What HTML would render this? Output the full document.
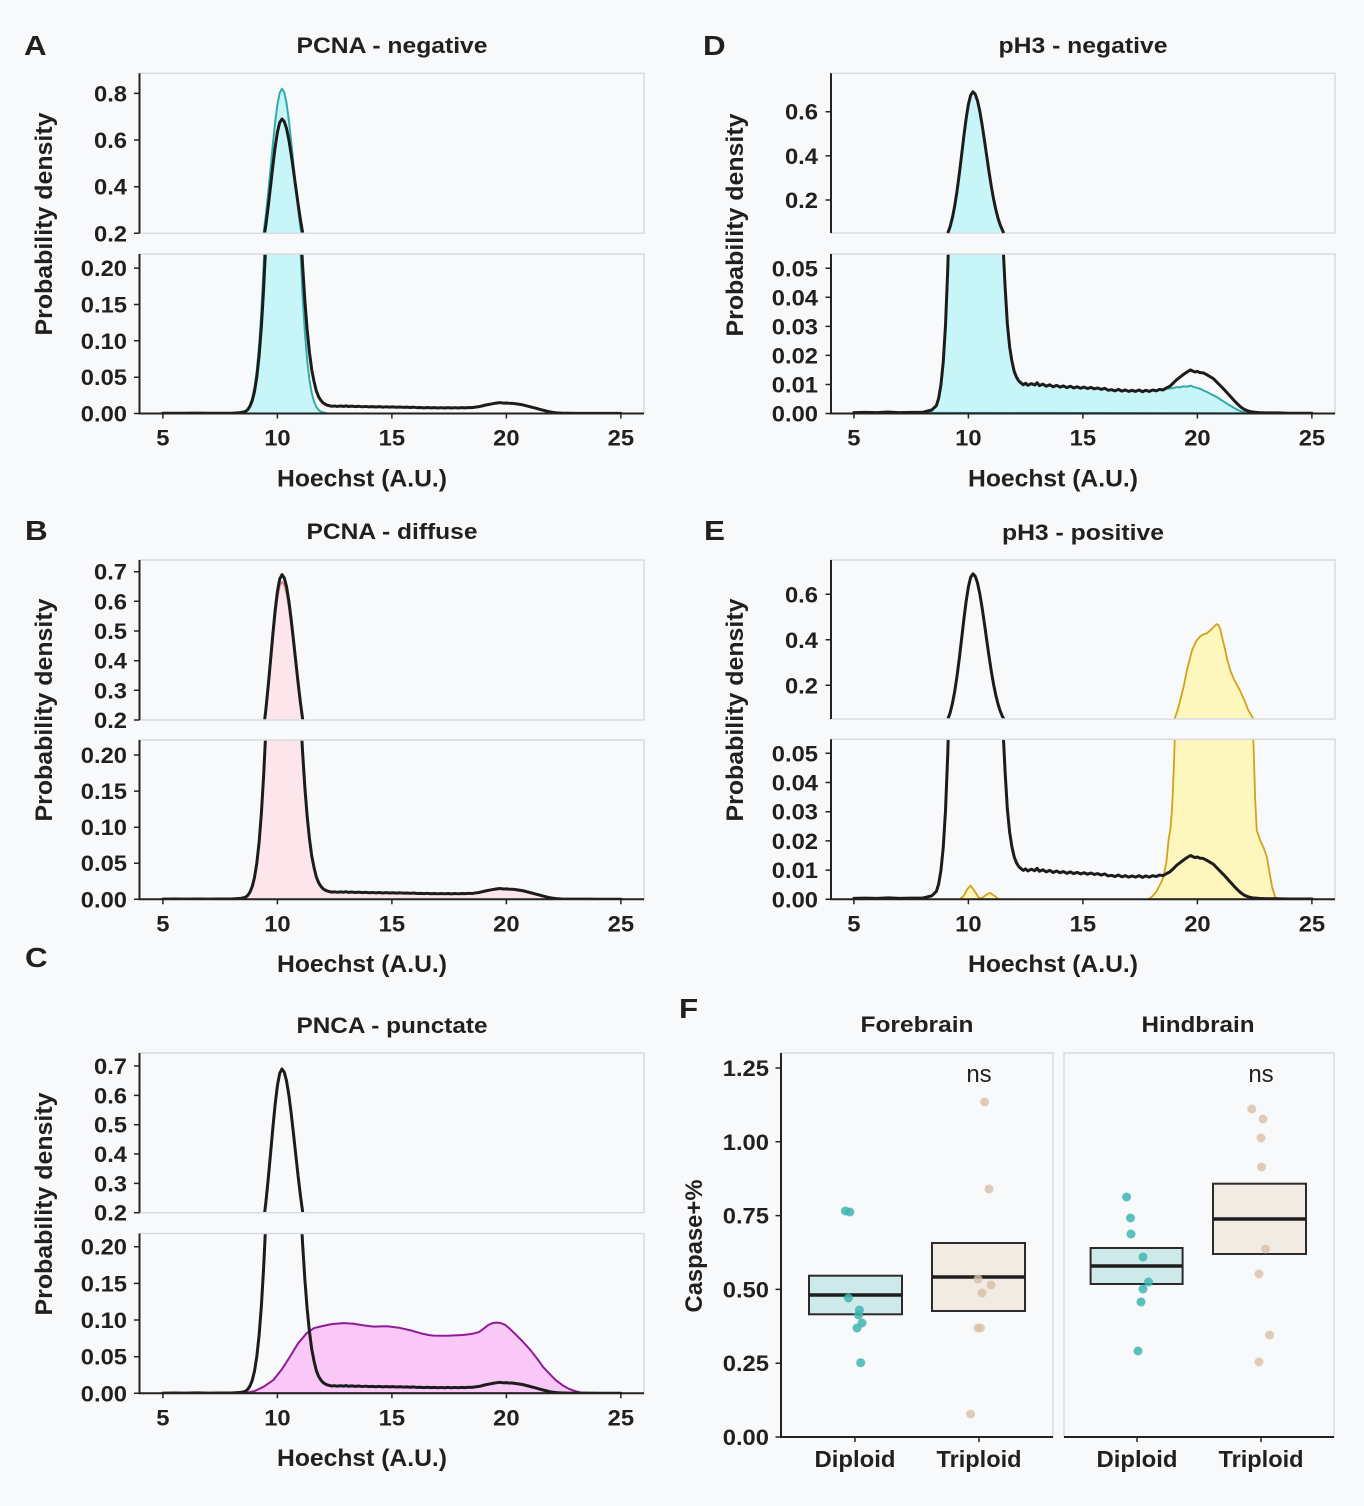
<!DOCTYPE html>
<html><head><meta charset="utf-8"><style>
html,body{margin:0;padding:0;background:#f8f9fb;}
svg{display:block}
text{font-family:"Liberation Sans",Arial,sans-serif;font-weight:bold;fill:#231f20}
.tk{font-size:22px}
.ttl{font-size:22px}
.ax{font-size:24px}
.lt{font-size:28px}
.bl{fill:none;stroke:#1c1c1c;stroke-width:3px;stroke-linejoin:round;stroke-linecap:round}
.teal{fill:#c8f6f8;stroke:#35aaa6;stroke-width:2px;stroke-linejoin:round}
.pink{fill:#fce6ec;stroke:#e58a96;stroke-width:2px;stroke-linejoin:round}
.mag{fill:#f9c8f6;stroke:#8e1c96;stroke-width:2px;stroke-linejoin:round}
.yel{fill:#fdf6bd;stroke:#d1a21d;stroke-width:1.8px;stroke-linejoin:round}
.box{fill:none;stroke:#d8dce0;stroke-width:1.5}
.sp{fill:none;stroke:#222;stroke-width:2}
.tc{fill:none;stroke:#222;stroke-width:1.5}
</style></head><body>
<svg width="1364" height="1506" viewBox="0 0 1364 1506" xmlns="http://www.w3.org/2000/svg">
<defs>
<clipPath id="cAt"><rect x="139.5" y="73.3" width="504.5" height="160"/></clipPath>
<clipPath id="cAb"><rect x="139.5" y="254" width="504.5" height="159.5"/></clipPath>
<clipPath id="cBt"><rect x="139.5" y="560" width="504.5" height="160"/></clipPath>
<clipPath id="cBb"><rect x="139.5" y="740" width="504.5" height="159.3"/></clipPath>
<clipPath id="cCt"><rect x="139.5" y="1053" width="504.5" height="159.7"/></clipPath>
<clipPath id="cCb"><rect x="139.5" y="1233.5" width="504.5" height="159.8"/></clipPath>
<clipPath id="cDt"><rect x="831" y="73.3" width="504" height="159.7"/></clipPath>
<clipPath id="cDb"><rect x="831" y="254" width="504" height="159.5"/></clipPath>
<clipPath id="cEt"><rect x="831" y="560" width="504" height="159"/></clipPath>
<clipPath id="cEb"><rect x="831" y="739.3" width="504" height="160"/></clipPath>

<path id="blk" vector-effect="non-scaling-stroke" d="M5 .0003L5.5 .0004 6 .0003 6.5 .0005 7 .0003 7.5 .0004 8 .0004 8.4 .0012 8.6 .0027 8.7 .0052 8.8 .0098 8.9 .0176 9 .0303 9.1 .05 9.2 .0787 9.3 .119 9.4 .172 9.5 .238 9.6 .316 9.7 .401 9.8 .488 9.9 .568 10 .633 10.1 .675 10.2 .69 10.3 .679 10.4 .649 10.5 .601 10.6 .54 10.7 .471 10.8 .399 10.9 .328 11 .262 11.1 .204 11.2 .155 11.3 .115 11.4 .084 11.5 .06 11.6 .044 11.7 .031 11.8 .023 11.9 .018 12 .0145 12.1 .0125 12.2 .0112 12.3 .0105 12.4 .0099 12.5 .0104 12.6 .0097 12.75 .0103 12.9 .0098 13 .0106 13.1 .0096 13.25 .0101 13.4 .0094 13.55 .0099 13.7 .0092 13.85 .0097 14 .0091 14.15 .0095 14.3 .0089 14.45 .0094 14.6 .0088 14.75 .0092 14.9 .0087 15.05 .0091 15.2 .0086 15.35 .009 15.5 .0085 15.65 .0088 15.8 .0083 15.95 .0087 16.1 .008 16.25 .0082 16.4 .0078 16.55 .0083 16.7 .0077 16.85 .0081 17 .0076 17.15 .008 17.3 .0076 17.45 .0081 17.6 .0075 17.75 .008 17.9 .0076 18.05 .0081 18.2 .0078 18.35 .0083 18.5 .0081 18.65 .0088 18.8 .0094 18.95 .0105 19.1 .0117 19.25 .0126 19.4 .0135 19.55 .0143 19.7 .015 19.8 .0146 19.9 .0143 20 .0145 20.1 .0141 20.25 .014 20.4 .0134 20.55 .0127 20.7 .012 20.85 .0108 21 .0096 21.15 .0084 21.3 .0071 21.45 .0058 21.6 .0045 21.75 .0033 21.9 .0022 22.05 .0014 22.2 .0009 22.4 .0005 22.7 .0003 23 .0002 23.5 .0002 24 .0001 24.5 .0001 25 .0001"/>

<path id="tA" vector-effect="non-scaling-stroke" d="M8.4 0L8.6 .0032 8.7 .0062 8.8 .0116 8.9 .021 9 .036 9.1 .0594 9.2 .0935 9.3 .141 9.4 .2045 9.5 .283 9.6 .3756 9.7 .476 9.8 .58 9.9 .675 10 .752 10.1 .802 10.2 .82 10.3 .804 10.4 .757 10.5 .685 10.6 .595 10.7 .497 10.8 .399 10.9 .308 11 .228 11.1 .162 11.2 .111 11.3 .073 11.4 .046 11.5 .028 11.6 .0163 11.7 .0091 11.8 .0049 11.9 .0025 12 .0015 12.2 0Z"/>

<path id="tD" vector-effect="non-scaling-stroke" d="M5 .0003L5.5 .0004 6 .0003 6.5 .0005 7 .0003 7.5 .0004 8 .0004 8.4 .0012 8.6 .0027 8.7 .0052 8.8 .0098 8.9 .0176 9 .0303 9.1 .05 9.2 .0787 9.3 .119 9.4 .172 9.5 .238 9.6 .316 9.7 .401 9.8 .488 9.9 .568 10 .633 10.1 .675 10.2 .69 10.3 .679 10.4 .649 10.5 .601 10.6 .54 10.7 .471 10.8 .399 10.9 .328 11 .262 11.1 .204 11.2 .155 11.3 .115 11.4 .084 11.5 .06 11.6 .044 11.7 .031 11.8 .023 11.9 .018 12 .0145 12.1 .0125 12.2 .0112 12.3 .0105 12.4 .0099 12.5 .0104 12.6 .0097 12.75 .0103 12.9 .0098 13 .0106 13.1 .0096 13.25 .0101 13.4 .0094 13.55 .0099 13.7 .0092 13.85 .0097 14 .0091 14.15 .0095 14.3 .0089 14.45 .0094 14.6 .0088 14.75 .0092 14.9 .0087 15.05 .0091 15.2 .0086 15.35 .009 15.5 .0085 15.65 .0088 15.8 .0083 15.95 .0087 16.1 .008 16.25 .0082 16.4 .0078 16.55 .0083 16.7 .0077 16.85 .0081 17 .0076 17.15 .008 17.3 .0076 17.45 .0081 17.6 .0075 17.75 .008 17.9 .0076 18.05 .0081 18.2 .0078 18.35 .0083 18.5 .0081 18.65 .0086 18.8 .0086 18.95 .0088 19.1 .0091 19.25 .009 19.4 .0094 19.55 .0092 19.7 .0096 19.85 .0091 20 .0088 20.15 .0084 20.3 .0078 20.45 .0073 20.6 .0066 20.75 .0061 20.9 .0054 21.05 .0046 21.2 .0039 21.35 .0031 21.5 .0024 21.65 .0017 21.8 .0011 22 .0005 22.3 .0001 22.6 0 25 0Z"/>

<path id="mg" vector-effect="non-scaling-stroke" d="M5 0L8.6 .0005 9 .003 9.4 .009 9.82 .018 10.2 .033 10.55 .05 10.9 .068 11.28 .082 11.6 .089 12 .092 12.4 .0945 12.88 .0957 13.3 .095 13.8 .0925 14.2 .091 14.8 .0915 15.3 .0895 15.8 .086 16.27 .0818 16.6 .0795 16.82 .0787 17.4 .0785 18.1 .0796 18.5 .081 18.8 .0835 19 .088 19.2 .093 19.4 .0958 19.57 .0966 19.75 .0958 19.94 .0935 20.15 .088 20.4 .0805 20.7 .071 21.05 .059 21.35 .047 21.6 .036 21.9 .026 22.15 .018 22.45 .011 22.7 .0065 23 .003 23.25 .001 23.6 0 25 0Z"/>

<path id="yl" vector-effect="non-scaling-stroke" d="M9.6 0L9.8 .0012 9.95 .0035 10.1 .0047 10.25 .003 10.45 .0006 10.6 .0004 10.75 .0014 10.95 .0022 11.1 .0014 11.3 .0002 11.4 0ZM17.85 0L18 .0008 18.2 .0025 18.4 .0055 18.52 .0077 18.65 .013 18.74 .0203 18.83 .0245 18.9 .032 18.97 .045 19.03 .06 19.1 .08 19.2 .115 19.3 .155 19.4 .195 19.55 .27 19.77 .355 19.95 .395 20.14 .417 20.3 .425 20.42 .429 20.61 .446 20.75 .46 20.84 .469 20.92 .465 20.99 .45 21.08 .41 21.18 .37 21.3 .315 21.43 .267 21.6 .225 21.85 .179 22.05 .135 22.22 .091 22.35 .068 22.45 .053 22.52 .035 22.59 .0237 22.75 .02 22.9 .0175 23.03 .0146 23.15 .009 23.27 .004 23.39 .0009 23.5 0Z"/>
</defs>

<rect width="1364" height="1506" fill="#f8f9fb"/>

<!-- ===== Curves ===== -->
<!-- A -->
<g clip-path="url(#cAt)"><g transform="translate(48.4 280) scale(22.9 -233.3)"><use href="#tA" class="teal"/><use href="#blk" class="bl"/></g></g>
<g clip-path="url(#cAb)"><g transform="translate(48.4 413.5) scale(22.9 -727)"><use href="#tA" class="teal"/><use href="#blk" class="bl"/></g></g>
<!-- B -->
<g clip-path="url(#cBt)"><g transform="translate(48.4 779.3) scale(22.9 -296.6)"><g transform="scale(1 .965)"><use href="#blk" class="pink"/></g><use href="#blk" class="bl"/></g></g>
<g clip-path="url(#cBb)"><g transform="translate(48.4 899.3) scale(22.9 -721.5)"><g transform="scale(1 .965)"><use href="#blk" class="pink"/></g><use href="#blk" class="bl"/></g></g>
<!-- C -->
<g clip-path="url(#cCt)"><g transform="translate(48.4 1271.4) scale(22.9 -293.4)"><use href="#mg" class="mag"/><use href="#blk" class="bl"/></g></g>
<g clip-path="url(#cCb)"><g transform="translate(48.4 1393.3) scale(22.9 -733)"><use href="#mg" class="mag"/><use href="#blk" class="bl"/></g></g>
<!-- D bottom -->
<g clip-path="url(#cDb)"><g transform="translate(739.4 413.5) scale(22.9 -2904)"><use href="#tD" class="teal"/><use href="#blk" class="bl"/></g></g>
<!-- E -->
<g clip-path="url(#cEt)"><g transform="translate(739.4 730.8) scale(22.9 -227.5)"><use href="#yl" class="yel"/><use href="#blk" class="bl"/></g></g>
<g clip-path="url(#cEb)"><g transform="translate(739.4 899.3) scale(22.9 -2920)"><use href="#yl" class="yel"/><use href="#blk" class="bl"/></g></g>

<!-- ===== Frames ===== -->
<rect class="box" x="139.5" y="73.3" width="504.5" height="160"/>
<rect class="box" x="139.5" y="254" width="504.5" height="159.5"/>
<rect class="box" x="139.5" y="560" width="504.5" height="160"/>
<rect class="box" x="139.5" y="740" width="504.5" height="159.3"/>
<rect class="box" x="139.5" y="1053" width="504.5" height="159.7"/>
<rect class="box" x="139.5" y="1233.5" width="504.5" height="159.8"/>
<rect class="box" x="831" y="73.3" width="504" height="159.7"/>
<rect class="box" x="831" y="254" width="504" height="159.5"/>
<rect class="box" x="831" y="560" width="504" height="159"/>
<rect class="box" x="831" y="739.3" width="504" height="160"/>
<rect class="box" x="781" y="1053" width="272" height="384"/>
<rect class="box" x="1064" y="1053" width="270" height="384"/>

<!-- spines -->
<path class="sp" d="M139.5 73.3V233.3M139.5 254V413.5H644M139.5 560V720M139.5 740V899.3H644M139.5 1053V1212.7M139.5 1233.5V1393.3H644M831 73.3V233M831 254V413.5H1335M831 560V719M831 739.3V899.3H1335M781 1053V1437H1053M1064 1437H1334"/>

<!-- ticks -->
<path class="tc" d="M134 93.4h5.5M134 140h5.5M134 186.7h5.5M134 233.3h5.5M134 268.1h5.5M134 304.5h5.5M134 340.8h5.5M134 377.2h5.5M134 413.5h5.5M162.9 413.5v5M277.4 413.5v5M391.9 413.5v5M506.4 413.5v5M620.9 413.5v5"/>
<path class="tc" d="M134 571.7h5.5M134 601.3h5.5M134 631h5.5M134 660.7h5.5M134 690.3h5.5M134 720h5.5M134 755h5.5M134 791.1h5.5M134 827.2h5.5M134 863.2h5.5M134 899.3h5.5M162.9 899.3v5M277.4 899.3v5M391.9 899.3v5M506.4 899.3v5M620.9 899.3v5"/>
<path class="tc" d="M134 1066h5.5M134 1095.4h5.5M134 1124.7h5.5M134 1154h5.5M134 1183.4h5.5M134 1212.7h5.5M134 1246.7h5.5M134 1283.4h5.5M134 1320h5.5M134 1356.7h5.5M134 1393.3h5.5M162.9 1393.3v5M277.4 1393.3v5M391.9 1393.3v5M506.4 1393.3v5M620.9 1393.3v5"/>
<path class="tc" d="M825.5 111.7h5.5M825.5 155.9h5.5M825.5 200h5.5M825.5 268.3h5.5M825.5 297.3h5.5M825.5 326.4h5.5M825.5 355.4h5.5M825.5 384.5h5.5M825.5 413.5h5.5M853.9 413.5v5M968.4 413.5v5M1082.9 413.5v5M1197.4 413.5v5M1311.9 413.5v5"/>
<path class="tc" d="M825.5 594.3h5.5M825.5 639.8h5.5M825.5 685.3h5.5M825.5 753.3h5.5M825.5 782.5h5.5M825.5 811.7h5.5M825.5 840.9h5.5M825.5 870.1h5.5M825.5 899.3h5.5M853.9 899.3v5M968.4 899.3v5M1082.9 899.3v5M1197.4 899.3v5M1311.9 899.3v5"/>
<path class="tc" d="M775.5 1068h5.5M775.5 1141.8h5.5M775.5 1215.6h5.5M775.5 1289.4h5.5M775.5 1363.2h5.5M775.5 1437h5.5M855 1437v5M979 1437v5M1137 1437v5M1261 1437v5"/>

<!-- ===== F boxes & points ===== -->
<g stroke="#2b2b2b" stroke-width="2">
<rect x="809" y="1275.7" width="93" height="38.6" fill="#cde9e9"/>
<rect x="932" y="1243" width="93" height="68" fill="#f1ebe4"/>
<rect x="1090.6" y="1248" width="92" height="36" fill="#cde9e9"/>
<rect x="1213" y="1183.7" width="93" height="70.3" fill="#f1ebe4"/>
</g>
<path d="M809 1295H902M932 1277H1025M1090.6 1266H1182.6M1213 1219H1306" stroke="#1e1e1e" stroke-width="3.5"/>
<g fill="#3fb6b2" fill-opacity=".85">
<circle cx="845.4" cy="1211" r="4.5"/><circle cx="849.8" cy="1212" r="4.5"/><circle cx="848.4" cy="1298" r="4.5"/><circle cx="859.4" cy="1310" r="4.5"/><circle cx="858.5" cy="1315" r="4.5"/><circle cx="862" cy="1323" r="4.5"/><circle cx="857" cy="1328" r="4.5"/><circle cx="860.7" cy="1362.7" r="4.5"/>
<circle cx="1126.6" cy="1197" r="4.5"/><circle cx="1130.5" cy="1218" r="4.5"/><circle cx="1131" cy="1234" r="4.5"/><circle cx="1143" cy="1257" r="4.5"/><circle cx="1148.5" cy="1282" r="4.5"/><circle cx="1143" cy="1289" r="4.5"/><circle cx="1141" cy="1302" r="4.5"/><circle cx="1138" cy="1351" r="4.5"/>
</g>
<g fill="#d8bfa8" fill-opacity=".8">
<circle cx="984.6" cy="1102" r="4.5"/><circle cx="989" cy="1189" r="4.5"/><circle cx="978" cy="1279" r="4.5"/><circle cx="991" cy="1285" r="4.5"/><circle cx="982" cy="1293" r="4.5"/><circle cx="978" cy="1328" r="4.5"/><circle cx="980.5" cy="1328" r="4.5"/><circle cx="970.6" cy="1414" r="4.5"/>
<circle cx="1251.8" cy="1109" r="4.5"/><circle cx="1263" cy="1119" r="4.5"/><circle cx="1261" cy="1138" r="4.5"/><circle cx="1261.5" cy="1167" r="4.5"/><circle cx="1265.5" cy="1249" r="4.5"/><circle cx="1259" cy="1274" r="4.5"/><circle cx="1269.6" cy="1335" r="4.5"/><circle cx="1259" cy="1362" r="4.5"/>
</g>

<!-- ===== Text ===== -->
<text class="lt" transform="translate(24 55) scale(1.12 1)">A</text>
<text class="lt" transform="translate(25 540) scale(1.12 1)">B</text>
<text class="lt" transform="translate(25 967) scale(1.12 1)">C</text>
<text class="lt" transform="translate(703 55) scale(1.12 1)">D</text>
<text class="lt" transform="translate(704 540) scale(1.12 1)">E</text>
<text class="lt" transform="translate(679 1018) scale(1.12 1)">F</text>

<text class="ttl" x="392" y="53" text-anchor="middle" textLength="191" lengthAdjust="spacingAndGlyphs">PCNA - negative</text>
<text class="ttl" x="392" y="539" text-anchor="middle" textLength="171" lengthAdjust="spacingAndGlyphs">PCNA - diffuse</text>
<text class="ttl" x="392" y="1033" text-anchor="middle" textLength="191" lengthAdjust="spacingAndGlyphs">PNCA - punctate</text>
<text class="ttl" x="1083" y="53" text-anchor="middle" textLength="169" lengthAdjust="spacingAndGlyphs">pH3 - negative</text>
<text class="ttl" x="1083" y="540" text-anchor="middle" textLength="162" lengthAdjust="spacingAndGlyphs">pH3 - positive</text>
<text class="ttl" x="917" y="1032" text-anchor="middle" textLength="113" lengthAdjust="spacingAndGlyphs">Forebrain</text>
<text class="ttl" x="1198" y="1032" text-anchor="middle" textLength="113" lengthAdjust="spacingAndGlyphs">Hindbrain</text>

<text class="ax" x="362" y="486.5" text-anchor="middle" textLength="170" lengthAdjust="spacingAndGlyphs">Hoechst (A.U.)</text>
<text class="ax" x="362" y="972" text-anchor="middle" textLength="170" lengthAdjust="spacingAndGlyphs">Hoechst (A.U.)</text>
<text class="ax" x="362" y="1466" text-anchor="middle" textLength="170" lengthAdjust="spacingAndGlyphs">Hoechst (A.U.)</text>
<text class="ax" x="1053" y="486.5" text-anchor="middle" textLength="170" lengthAdjust="spacingAndGlyphs">Hoechst (A.U.)</text>
<text class="ax" x="1053" y="972" text-anchor="middle" textLength="170" lengthAdjust="spacingAndGlyphs">Hoechst (A.U.)</text>

<text class="ax" transform="translate(52 224) rotate(-90)" text-anchor="middle" textLength="223" lengthAdjust="spacingAndGlyphs">Probability density</text>
<text class="ax" transform="translate(52 710) rotate(-90)" text-anchor="middle" textLength="223" lengthAdjust="spacingAndGlyphs">Probability density</text>
<text class="ax" transform="translate(52 1204) rotate(-90)" text-anchor="middle" textLength="223" lengthAdjust="spacingAndGlyphs">Probability density</text>
<text class="ax" transform="translate(743 225) rotate(-90)" text-anchor="middle" textLength="223" lengthAdjust="spacingAndGlyphs">Probability density</text>
<text class="ax" transform="translate(743 710) rotate(-90)" text-anchor="middle" textLength="223" lengthAdjust="spacingAndGlyphs">Probability density</text>
<text class="ax" transform="translate(702 1246) rotate(-90)" text-anchor="middle" textLength="133" lengthAdjust="spacingAndGlyphs">Caspase+%</text>

<g transform="scale(1.08 1)" text-anchor="end">
<text class="tk" x="117.6" y="101.4">0.8</text>
<text class="tk" x="117.6" y="148">0.6</text>
<text class="tk" x="117.6" y="194.7">0.4</text>
<text class="tk" x="117.6" y="241.3">0.2</text>
<text class="tk" x="117.6" y="276.1">0.20</text>
<text class="tk" x="117.6" y="312.5">0.15</text>
<text class="tk" x="117.6" y="348.8">0.10</text>
<text class="tk" x="117.6" y="385.2">0.05</text>
<text class="tk" x="117.6" y="421.5">0.00</text>

<text class="tk" x="117.6" y="579.7">0.7</text>
<text class="tk" x="117.6" y="609.3">0.6</text>
<text class="tk" x="117.6" y="639">0.5</text>
<text class="tk" x="117.6" y="668.7">0.4</text>
<text class="tk" x="117.6" y="698.3">0.3</text>
<text class="tk" x="117.6" y="728">0.2</text>
<text class="tk" x="117.6" y="763">0.20</text>
<text class="tk" x="117.6" y="799.1">0.15</text>
<text class="tk" x="117.6" y="835.2">0.10</text>
<text class="tk" x="117.6" y="871.2">0.05</text>
<text class="tk" x="117.6" y="907.3">0.00</text>

<text class="tk" x="117.6" y="1074">0.7</text>
<text class="tk" x="117.6" y="1103.4">0.6</text>
<text class="tk" x="117.6" y="1132.7">0.5</text>
<text class="tk" x="117.6" y="1162">0.4</text>
<text class="tk" x="117.6" y="1191.4">0.3</text>
<text class="tk" x="117.6" y="1220.7">0.2</text>
<text class="tk" x="117.6" y="1254.7">0.20</text>
<text class="tk" x="117.6" y="1291.4">0.15</text>
<text class="tk" x="117.6" y="1328">0.10</text>
<text class="tk" x="117.6" y="1364.7">0.05</text>
<text class="tk" x="117.6" y="1401.3">0.00</text>

<text class="tk" x="757.4" y="119.7">0.6</text>
<text class="tk" x="757.4" y="163.9">0.4</text>
<text class="tk" x="757.4" y="208">0.2</text>
<text class="tk" x="757.4" y="276.3">0.05</text>
<text class="tk" x="757.4" y="305.3">0.04</text>
<text class="tk" x="757.4" y="334.4">0.03</text>
<text class="tk" x="757.4" y="363.4">0.02</text>
<text class="tk" x="757.4" y="392.5">0.01</text>
<text class="tk" x="757.4" y="421.5">0.00</text>

<text class="tk" x="757.4" y="602.3">0.6</text>
<text class="tk" x="757.4" y="647.8">0.4</text>
<text class="tk" x="757.4" y="693.3">0.2</text>
<text class="tk" x="757.4" y="761.3">0.05</text>
<text class="tk" x="757.4" y="790.5">0.04</text>
<text class="tk" x="757.4" y="819.7">0.03</text>
<text class="tk" x="757.4" y="848.9">0.02</text>
<text class="tk" x="757.4" y="878.1">0.01</text>
<text class="tk" x="757.4" y="907.3">0.00</text>

<text class="tk" x="712" y="1076">1.25</text>
<text class="tk" x="712" y="1149.8">1.00</text>
<text class="tk" x="712" y="1223.6">0.75</text>
<text class="tk" x="712" y="1297.4">0.50</text>
<text class="tk" x="712" y="1371.2">0.25</text>
<text class="tk" x="712" y="1445">0.00</text>
</g>

<g transform="scale(1.08 1)" text-anchor="middle">
<text class="tk" x="150.83" y="445.5">5</text>
<text class="tk" x="256.85" y="445.5">10</text>
<text class="tk" x="362.87" y="445.5">15</text>
<text class="tk" x="468.89" y="445.5">20</text>
<text class="tk" x="574.91" y="445.5">25</text>

<text class="tk" x="150.83" y="931.3">5</text>
<text class="tk" x="256.85" y="931.3">10</text>
<text class="tk" x="362.87" y="931.3">15</text>
<text class="tk" x="468.89" y="931.3">20</text>
<text class="tk" x="574.91" y="931.3">25</text>

<text class="tk" x="150.83" y="1425.3">5</text>
<text class="tk" x="256.85" y="1425.3">10</text>
<text class="tk" x="362.87" y="1425.3">15</text>
<text class="tk" x="468.89" y="1425.3">20</text>
<text class="tk" x="574.91" y="1425.3">25</text>

<text class="tk" x="790.65" y="445.5">5</text>
<text class="tk" x="896.67" y="445.5">10</text>
<text class="tk" x="1002.69" y="445.5">15</text>
<text class="tk" x="1108.7" y="445.5">20</text>
<text class="tk" x="1214.72" y="445.5">25</text>

<text class="tk" x="790.65" y="931.3">5</text>
<text class="tk" x="896.67" y="931.3">10</text>
<text class="tk" x="1002.69" y="931.3">15</text>
<text class="tk" x="1108.7" y="931.3">20</text>
<text class="tk" x="1214.72" y="931.3">25</text>
</g>

<text style="font-size:23px" x="855" y="1467" text-anchor="middle" textLength="81" lengthAdjust="spacingAndGlyphs">Diploid</text>
<text style="font-size:23px" x="979" y="1467" text-anchor="middle" textLength="85" lengthAdjust="spacingAndGlyphs">Triploid</text>
<text style="font-size:23px" x="1137" y="1467" text-anchor="middle" textLength="81" lengthAdjust="spacingAndGlyphs">Diploid</text>
<text style="font-size:23px" x="1261" y="1467" text-anchor="middle" textLength="85" lengthAdjust="spacingAndGlyphs">Triploid</text>

<text style="font-size:24px;font-weight:normal" x="979" y="1082" text-anchor="middle">ns</text>
<text style="font-size:24px;font-weight:normal" x="1261" y="1082" text-anchor="middle">ns</text>

<!-- D top: drawn last in pixel coordinates -->
<polygon fill="#c8f6f8" stroke="none" points="947.6,232.3 947.8,232.3 950.08,226.78 952.37,217.88 954.66,206.18 956.95,191.61 959.24,174.39 961.53,155.63 963.82,136.42 966.11,118.77 968.4,104.42 970.69,95.15 972.98,91.83 975.27,94.26 977.56,100.88 979.85,111.48 982.14,124.96 984.43,140.18 986.72,156.07 989.01,171.74 991.3,186.31 993.59,199.12 995.88,209.93 998.17,218.76 1000.46,225.61 1002.75,230.9 1003.6,232.3"/>
<polyline fill="none" stroke="#1c1c1c" stroke-width="3" stroke-linejoin="round" points="947.8,233 950.08,226.78 952.37,217.88 954.66,206.18 956.95,191.61 959.24,174.39 961.53,155.63 963.82,136.42 966.11,118.77 968.4,104.42 970.69,95.15 972.98,91.83 975.27,94.26 977.56,100.88 979.85,111.48 982.14,124.96 984.43,140.18 986.72,156.07 989.01,171.74 991.3,186.31 993.59,199.12 995.88,209.93 998.17,218.76 1000.46,225.61 1002.75,230.9 1003.8,233"/>
</svg>
</body></html>
